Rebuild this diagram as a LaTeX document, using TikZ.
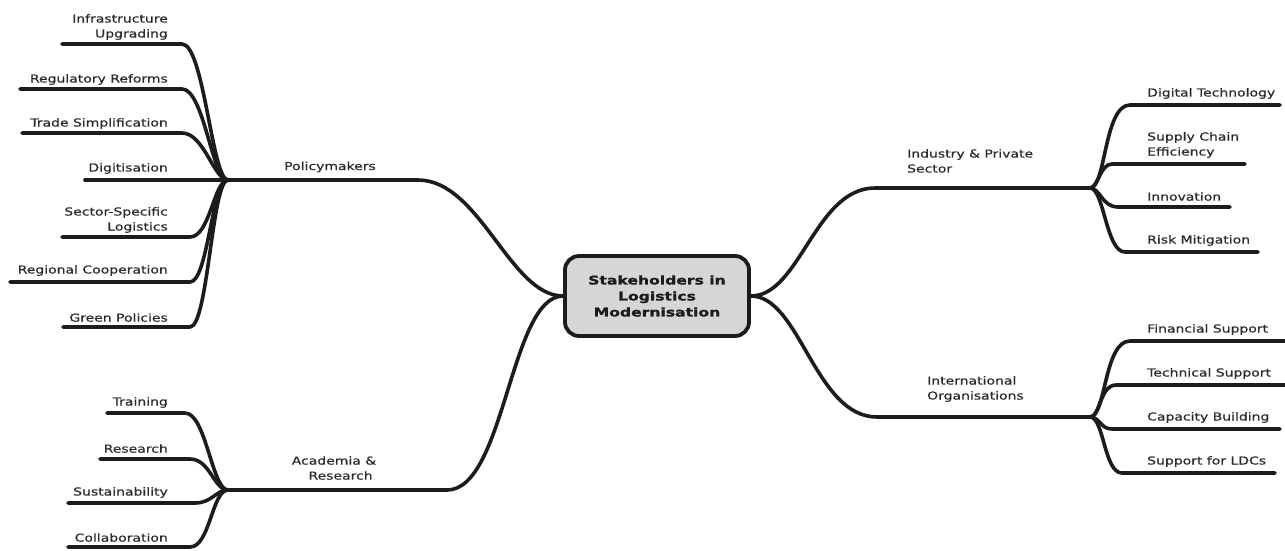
\documentclass[tikz,border=0pt]{standalone}
\usepackage{fontspec}
\setmainfont{DejaVu Sans}[FakeStretch=1.27,FakeBold=0.5]
\newfontfamily\rootfont{DejaVu Sans}[FakeStretch=1.3,FakeBold=1.2]
\definecolor{ink}{HTML}{1C1C1C}
\definecolor{txt}{HTML}{2A2A2A}
\definecolor{rootfill}{HTML}{D6D6D6}
\begin{document}
\begin{tikzpicture}[x=1pt,y=-1pt,
  edge/.style={line width=3.6pt,line cap=round,line join=round,ink},
  lbl/.style={font=\fontsize{11}{15}\selectfont,text=txt,inner sep=0pt},
  lleaf/.style={lbl,anchor=south east,align=right},
  rleaf/.style={lbl,anchor=south west,align=left},
  root/.style={draw=ink,line width=3.8pt,fill=rootfill,rounded corners=14pt,
    minimum width=184pt,minimum height=80pt,align=center,
    font=\rootfont\bfseries\fontsize{12}{16}\selectfont,text=ink}]
\useasboundingbox (0,0) rectangle (1285,550);

% central topic
\node[root] (root) at (657,296) {Stakeholders in\\Logistics\\Modernisation};

% branch hubs
\coordinate (jP) at (228,180);
\coordinate (jA) at (228,490);
\coordinate (jI) at (1090,188);
\coordinate (jO) at (1090,417);
\coordinate (bP) at (418,180);
\coordinate (bA) at (447,490);
\coordinate (bI) at (875,188);
\coordinate (bO) at (877,417);

% main branches
\draw[edge] (root.west) .. controls (510,296) and (480,180) .. (bP) -- (jP);
\draw[edge] (root.west) .. controls (510,296) and (505,490) .. (bA) -- (jA);
\draw[edge] (root.east) .. controls (800,296) and (815,188) .. (bI) -- (jI);
\draw[edge] (root.east) .. controls (800,296) and (815,417) .. (bO) -- (jO);

% branch labels
\node[lbl] (pol) at (330,167) {Policymakers};
\node[lbl,align=center] (aca) at (334,468) {Academia \&\\\hspace*{1.2em}Research};
\node[lbl,align=left,anchor=north west] (ind) at (907,149) {Industry \& Private\\Sector};
\node[lbl,align=left,anchor=north west] (int) at (927,376) {International\\Organisations};

% ---- Policymakers leaves
\coordinate (pe1) at (62,44);  \coordinate (pk1) at (182,44);
\coordinate (pe2) at (20,89);  \coordinate (pk2) at (182,89);
\coordinate (pe3) at (22,133); \coordinate (pk3) at (182,133);
\coordinate (pe4) at (85,180);
\coordinate (pe5) at (62,237); \coordinate (pk5) at (190,237);
\coordinate (pe6) at (10,282); \coordinate (pk6) at (190,282);
\coordinate (pe7) at (63,327); \coordinate (pk7) at (190,327);
\draw[edge] (pe1) -- (pk1) .. controls (204,44) and (212,180) .. (jP);
\draw[edge] (pe2) -- (pk2) .. controls (204,89) and (212,180) .. (jP);
\draw[edge] (pe3) -- (pk3) .. controls (204,133) and (214,180) .. (jP);
\draw[edge] (pe4) -- (jP);
\draw[edge] (pe5) -- (pk5) .. controls (210,237) and (214,180) .. (jP);
\draw[edge] (pe6) -- (pk6) .. controls (208,282) and (212,180) .. (jP);
\draw[edge] (pe7) -- (pk7) .. controls (208,327) and (212,180) .. (jP);
\node[lleaf] (l1) at (168,40) {Infrastructure\\Upgrading};
\node[lleaf] (l2) at (168,85) {Regulatory Reforms};
\node[lleaf] (l3) at (168,129) {Trade Simplification};
\node[lleaf] (l4) at (168,174) {Digitisation};
\node[lleaf] (l5) at (168,233) {Sector-Specific\\Logistics};
\node[lleaf] (l6) at (168,276) {Regional Cooperation};
\node[lleaf] (l7) at (168,322) {Green Policies};

% ---- Academia leaves
\coordinate (ae1) at (107,413); \coordinate (ak1) at (185,413);
\coordinate (ae2) at (100,459); \coordinate (ak2) at (190,459);
\coordinate (ae3) at (68,503);  \coordinate (ak3) at (195,503);
\coordinate (ae4) at (68,547);  \coordinate (ak4) at (190,547);
\draw[edge] (ae1) -- (ak1) .. controls (206,413) and (212,490) .. (jA);
\draw[edge] (ae2) -- (ak2) .. controls (210,459) and (214,490) .. (jA);
\draw[edge] (ae3) -- (ak3) .. controls (212,503) and (216,490) .. (jA);
\draw[edge] (ae4) -- (ak4) .. controls (210,547) and (212,490) .. (jA);
\node[lleaf] (a1) at (168,408) {Training};
\node[lleaf] (a2) at (168,453) {Research};
\node[lleaf] (a3) at (168,498) {Sustainability};
\node[lleaf] (a4) at (168,542) {Collaboration};

% ---- Industry leaves
\coordinate (ik1) at (1130,105); \coordinate (ie1) at (1280,105);
\coordinate (ik2) at (1112,164); \coordinate (ie2) at (1245,164);
\coordinate (ik3) at (1118,207); \coordinate (ie3) at (1230,207);
\coordinate (ik4) at (1125,252); \coordinate (ie4) at (1258,252);
\draw[edge] (jI) .. controls (1106,188) and (1104,105) .. (ik1) -- (ie1);
\draw[edge] (jI) .. controls (1098,188) and (1100,164) .. (ik2) -- (ie2);
\draw[edge] (jI) .. controls (1100,188) and (1102,207) .. (ik3) -- (ie3);
\draw[edge] (jI) .. controls (1104,188) and (1106,252) .. (ik4) -- (ie4);
\node[rleaf] (i1) at (1147,99) {Digital Technology};
\node[rleaf] (i2) at (1147,158) {Supply Chain\\Efficiency};
\node[rleaf] (i3) at (1147,201) {Innovation};
\node[rleaf] (i4) at (1147,246) {Risk Mitigation};

% ---- International organisations leaves
\coordinate (ok1) at (1130,341); \coordinate (oe1) at (1285,341);
\coordinate (ok2) at (1116,385); \coordinate (oe2) at (1285,385);
\coordinate (ok3) at (1112,429); \coordinate (oe3) at (1280,429);
\coordinate (ok4) at (1122,473); \coordinate (oe4) at (1275,473);
\draw[edge] (jO) .. controls (1106,417) and (1104,341) .. (ok1) -- (oe1);
\draw[edge] (jO) .. controls (1100,417) and (1100,385) .. (ok2) -- (oe2);
\draw[edge] (jO) .. controls (1100,417) and (1100,429) .. (ok3) -- (oe3);
\draw[edge] (jO) .. controls (1104,417) and (1104,473) .. (ok4) -- (oe4);
\node[rleaf] (o1) at (1147,335) {Financial Support};
\node[rleaf] (o2) at (1147,379) {Technical Support};
\node[rleaf] (o3) at (1147,423) {Capacity Building};
\node[rleaf] (o4) at (1147,467) {Support for LDCs};
\end{tikzpicture}
\end{document}
